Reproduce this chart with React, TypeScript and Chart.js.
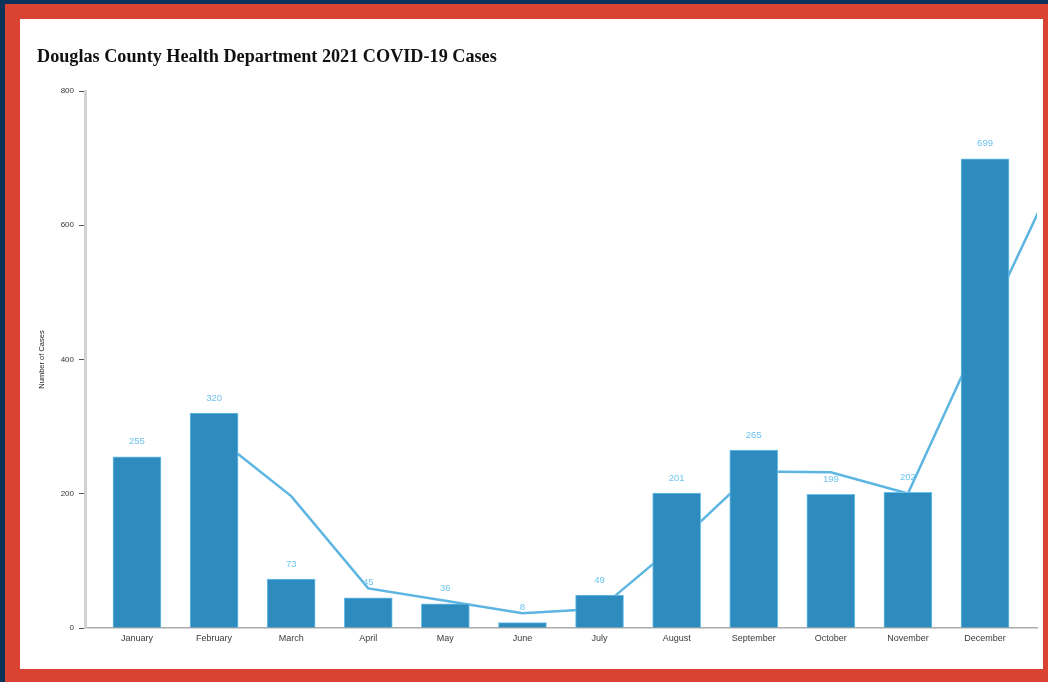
import React, {useEffect, useRef} from "react";
import Chart from "chart.js/auto";

const months = [
    "January", "February", "March", "April", "May", "June",
    "July", "August", "September", "October", "November", "December",
];
const cases = [255, 320, 73, 45, 36, 8, 49, 201, 265, 199, 202, 699];
// two-month trend line (last point runs past the axis and is clipped)
const trend = [null, 287.5, 196.5, 59, 40.5, 22, 28.5, 125, 233, 232, 200.5, 450.5, 695];
const yTicks = [0, 200, 400, 600, 800];

const valueLabels = {
    id: "valueLabels",
    afterDatasetsDraw(chart: Chart) {
        const ctx = chart.ctx;
        const meta = chart.getDatasetMeta(0);
        ctx.save();
        ctx.fillStyle = "#6ec3ee";
        ctx.font = "9.5px 'Liberation Sans', Arial, sans-serif";
        ctx.textAlign = "center";
        ctx.textBaseline = "middle";
        meta.data.forEach((bar: any, i: number) => {
            ctx.fillText(String(cases[i]), bar.x, bar.y - 15);
        });
        ctx.restore();
    },
};

const CasesChart: React.FC = () => {
    const chartRef = useRef<HTMLCanvasElement | null>(null);

    useEffect(() => {
        if (!chartRef.current) return;
        const chart = new Chart(chartRef.current, {
            type: "bar",
            data: {
                datasets: [
                    {
                        type: "bar",
                        label: "Cases",
                        data: cases.map((v, i) => ({x: i, y: v})),
                        backgroundColor: "#2e8bbe",
                        borderColor: "#6cc0ea",
                        borderWidth: 1,
                        barThickness: 48,
                        order: 0,
                    },
                    {
                        type: "line",
                        label: "Trend",
                        data: trend.map((v, i) => ({x: i, y: v})),
                        borderColor: "#5db5e2",
                        borderWidth: 2.5,
                        pointRadius: 0,
                        tension: 0,
                        order: 1,
                    },
                ] as any,
            },
            options: {
                animation: false,
                responsive: true,
                maintainAspectRatio: false,
                layout: {padding: {top: 72, bottom: 11, left: 0, right: 6}},
                plugins: {
                    legend: {display: false},
                    tooltip: {enabled: false},
                },
                scales: {
                    x: {
                        type: "linear",
                        min: -0.674,
                        max: 11.674,
                        offset: false,
                        afterBuildTicks: (scale: any) => {
                            scale.ticks = months.map((_, i) => ({value: i}));
                        },
                        afterFit: (scale: any) => {
                            scale.height = 30;
                        },
                        ticks: {
                            autoSkip: false,
                            maxRotation: 0,
                            padding: 5,
                            color: "#3a3a3a",
                            font: {family: "'Liberation Sans', Arial, sans-serif", size: 9},
                            callback: (v: any) => months[v] ?? "",
                        },
                        grid: {display: true, drawOnChartArea: false, drawTicks: false},
                        border: {display: true, color: "#aaaaaa", width: 1.5},
                    },
                    y: {
                        min: 0,
                        max: 800,
                        afterBuildTicks: (scale: any) => {
                            scale.ticks = yTicks.map((v) => ({value: v}));
                        },
                        afterFit: (scale: any) => {
                            scale.width = 65;
                        },
                        ticks: {
                            padding: 5,
                            color: "#333",
                            font: {family: "'Liberation Sans', Arial, sans-serif", size: 8},
                        },
                        grid: {drawOnChartArea: false, drawTicks: true, tickLength: 6, color: "#555", lineWidth: 1},
                        border: {display: true, color: "#d2d2d2", width: 3},
                        title: {
                            display: true,
                            text: "Number of Cases",
                            color: "#222",
                            padding: {top: 17, bottom: 0},
                            font: {family: "'Liberation Sans', Arial, sans-serif", size: 7.5},
                        },
                    },
                },
            },
            plugins: [valueLabels],
        });

        return () => {
            chart.destroy();
        };
    }, []);

    return <canvas ref={chartRef}/>;
};

export default function App() {
    return (
        <div style={{position: "fixed", left: 0, top: 0, width: 1048, height: 682, background: "#0d3259"}}>
            <div style={{position: "absolute", left: 5, top: 4, width: 1043, height: 678, background: "#da4232"}}/>
            <div style={{position: "absolute", left: 20, top: 19, width: 1023, height: 650, background: "#ffffff"}}>
                <div style={{
                    position: "absolute",
                    left: 17,
                    top: 28,
                    fontFamily: "'Liberation Serif', 'Times New Roman', serif",
                    fontWeight: "bold",
                    fontSize: 18.2,
                    lineHeight: 1,
                    color: "#111",
                    whiteSpace: "nowrap",
                    zIndex: 1,
                }}>
                    Douglas County Health Department 2021 COVID-19 Cases
                </div>
                <div style={{position: "absolute", left: 0, top: 0, width: 1023, height: 650}}>
                    <CasesChart/>
                </div>
            </div>
        </div>
    );
}
